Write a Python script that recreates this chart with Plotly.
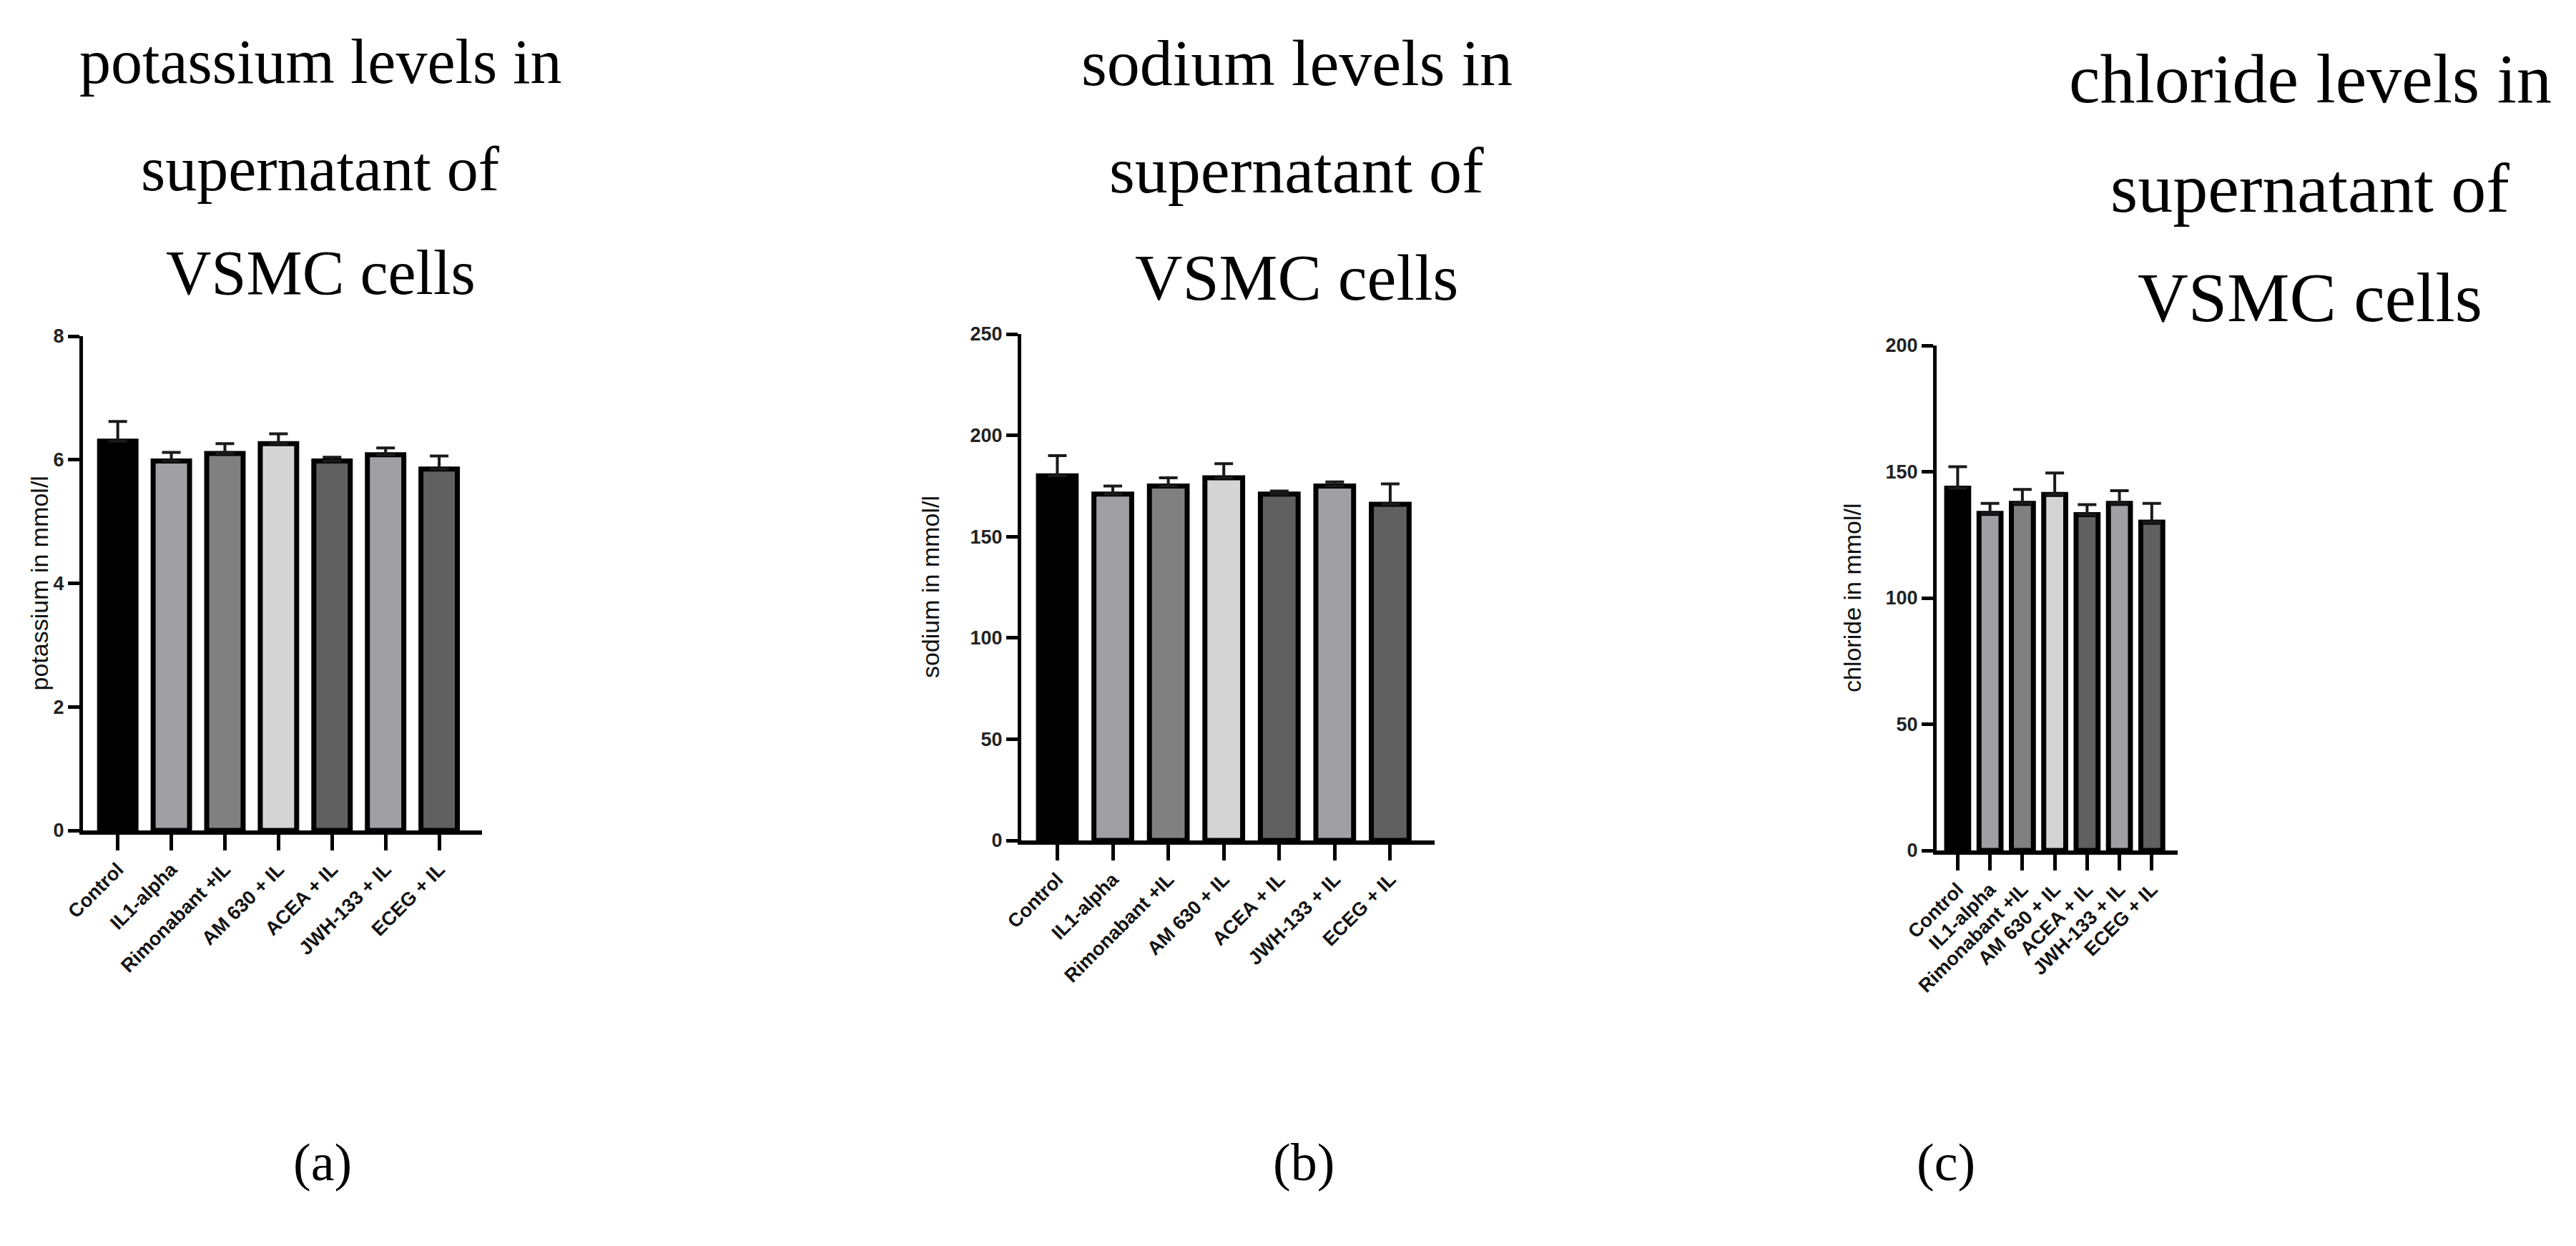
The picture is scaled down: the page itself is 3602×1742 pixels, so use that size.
import plotly.graph_objects as go

# Figure size ---------------------------------------------------------------
W, H = 3602, 1742

# Data ------------------------------------------------------------------------
groups = [
    "Control",
    "IL1-alpha",
    "Rimonabant +IL",
    "AM 630 + IL",
    "ACEA + IL",
    "JWH-133 + IL",
    "ECEG + IL",
]

potassium_mean = [6.30, 5.98, 6.10, 6.26, 5.98, 6.08, 5.85]
potassium_sem = [0.32, 0.14, 0.16, 0.16, 0.06, 0.11, 0.21]

sodium_mean = [180, 171, 175, 179, 171, 175, 166]
sodium_sem = [10, 4, 4, 7, 1.5, 2, 10]

chloride_mean = [143.5, 133.5, 137.5, 141, 133, 137.5, 130]
chloride_sem = [8.5, 4, 5.5, 8.5, 4, 5, 7.5]

potassium_ticks = [0, 2, 4, 6, 8]
sodium_ticks = [0, 50, 100, 150, 200, 250]
chloride_ticks = [0, 50, 100, 150, 200]

# Visual tokens ---------------------------------------------------------------
_BAR_FILLS = ["#000000", "#a0a0a4", "#808080", "#d4d4d4", "#606060", "#a0a0a4", "#606060"]
_SANS = "Liberation Sans, Arial, sans-serif"
_SERIF = "Liberation Serif, Times New Roman, serif"
_INK = "#111111"


def px_x(x):
    return x / W


def px_y(y):
    return 1 - y / H


# panel geometry in pixels: (x_left, x_right, y_top, y_bottom)
panels = [
    dict(key="", box=(108, 666, 462, 1153), mean=potassium_mean, sem=potassium_sem,
         ticks=potassium_ticks, ytitle="potassium in mmol/l", ytitle_x=46,
         title=["potassium levels in", "supernatant of", "VSMC cells"], title_size=88,
         title_x=440, title_y=[78, 228, 374], letter="(a)", letter_x=443),
    dict(key="2", box=(1420, 1998, 459, 1167), mean=sodium_mean, sem=sodium_sem,
         ticks=sodium_ticks, ytitle="sodium in mmol/l", ytitle_x=1293,
         title=["sodium levels in", "supernatant of", "VSMC cells"], title_size=92,
         title_x=1805, title_y=[80, 230, 380], letter="(b)", letter_x=1815),
    dict(key="3", box=(2700, 3037, 475, 1181), mean=chloride_mean, sem=chloride_sem,
         ticks=chloride_ticks, ytitle="chloride in mmol/l", ytitle_x=2582,
         title=["chloride levels in", "supernatant of", "VSMC cells"], title_size=98,
         title_x=3222, title_y=[102, 255, 408], letter="(c)", letter_x=2713),
]

fig = go.Figure()
annotations = []

for p in panels:
    xl, xr, yt, yb = p["box"]
    xa = "x" + p["key"]
    ya = "y" + p["key"]
    fig.add_trace(
        go.Bar(
            x=list(range(len(groups))),
            y=p["mean"],
            width=0.68,
            marker=dict(color=_BAR_FILLS, line=dict(color="#000000", width=7)),
            error_y=dict(
                type="data",
                symmetric=False,
                array=p["sem"],
                arrayminus=[0] * len(groups),
                color="#1a1a1a",
                thickness=4,
                width=13,
            ),
            xaxis=xa,
            yaxis=ya,
            showlegend=False,
        )
    )

    xname = "xaxis" + p["key"]
    yname = "yaxis" + p["key"]
    fig.layout[xname] = dict(
        domain=[px_x(xl), px_x(xr)],
        anchor=ya,
        automargin=False,
        range=[-0.65, 6.8],
        tickvals=list(range(len(groups))),
        ticktext=groups,
        tickangle=-45,
        tickfont=dict(family=_SANS, size=27, color=_INK, weight="bold"),
        showline=True,
        linecolor="#000000",
        linewidth=6,
        ticks="outside",
        ticklen=22,
        tickwidth=5,
        tickcolor="#000000",
        showgrid=False,
        zeroline=False,
        fixedrange=True,
    )
    fig.layout[yname] = dict(
        domain=[px_y(yb), px_y(yt)],
        anchor=xa,
        automargin=False,
        range=[p["ticks"][0], p["ticks"][-1]],
        tickvals=p["ticks"],
        tickfont=dict(family=_SANS, size=27, color="#222222", weight="bold"),
        showline=True,
        linecolor="#000000",
        linewidth=5,
        ticks="outside",
        ticklen=16,
        tickwidth=5,
        tickcolor="#000000",
        showgrid=False,
        zeroline=False,
        fixedrange=True,
    )

    # y-axis title, placed as a rotated annotation centred on the plot height
    annotations.append(
        dict(
            text=p["ytitle"],
            x=px_x(p["ytitle_x"]),
            y=px_y((yt + yb) / 2),
            xref="paper",
            yref="paper",
            xanchor="center",
            yanchor="middle",
            textangle=-90,
            showarrow=False,
            font=dict(family=_SANS, size=34, color=_INK),
        )
    )

    for line, ty in zip(p["title"], p["title_y"]):
        annotations.append(
            dict(
                text=line,
                x=px_x(p["title_x"]),
                y=px_y(ty),
                xref="paper",
                yref="paper",
                xanchor="center",
                yanchor="middle",
                showarrow=False,
                font=dict(family=_SERIF, size=p["title_size"], color="#000000"),
            )
        )
    annotations.append(
        dict(
            text=p["letter"],
            x=px_x(p["letter_x"]),
            y=px_y(1617),
            xref="paper",
            yref="paper",
            xanchor="center",
            yanchor="middle",
            showarrow=False,
            font=dict(family=_SERIF, size=74, color="#000000"),
        )
    )

fig.update_layout(
    width=W,
    height=H,
    margin=dict(l=0, r=0, t=0, b=0),
    paper_bgcolor="white",
    plot_bgcolor="white",
    annotations=annotations,
)

fig.write_html("out.html")
